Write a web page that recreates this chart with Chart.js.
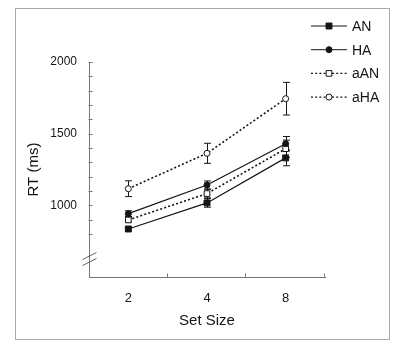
<!DOCTYPE html>
<html><head><meta charset="utf-8">
<script src="https://cdn.jsdelivr.net/npm/chart.js@4/dist/chart.umd.min.js"></script>
<style>html,body{margin:0;padding:0;background:#fff}#wrap{width:400px;height:353px;position:relative}</style>
</head><body><div id="wrap"><canvas id="c" width="400" height="353"></canvas></div>
<script>
const categories = ['2', '4', '8'];
const seriesNames = ['AN', 'HA', 'aAN', 'aHA'];
const AN = [835, 1017, 1331];
const HA = [942, 1142, 1430];
const aAN = [898, 1082, 1395];
const aHA = [1116, 1363, 1744];
const AN_err = [15, 30, 55];
const HA_err = [20, 28, 50];
const aAN_err = [15, 30, 60];
const aHA_err = [55, 70, 114];
const yLabels = [1000, 1500, 2000];
const yMin = 500, yMax = 2000, yStep = 100;

const FONT = "'Liberation Sans', Arial, sans-serif";
const INK = '#151515';
const AXIS = '#777';

function ds(label, data, err, style, filled, dashed, radius) {
  return {
    label, data, err,
    borderColor: INK, borderWidth: dashed ? 1.6 : 1.2,
    borderDash: dashed ? [2, 2.2] : [],
    pointStyle: style, pointRadius: radius, pointHoverRadius: radius,
    pointBackgroundColor: filled ? INK : '#fff', pointBorderColor: INK, pointBorderWidth: 1,
    tension: 0, fill: false
  };
}

const decor = {
  id: 'decor',
  beforeDraw(chart) {
    const ctx = chart.ctx;
    ctx.save();
    ctx.fillStyle = '#fff';
    ctx.fillRect(0, 0, chart.width, chart.height);
    ctx.strokeStyle = '#aaa';
    ctx.lineWidth = 1;
    ctx.strokeRect(15.5, 8.5, 374, 331);
    ctx.restore();
  },
  beforeDatasetsDraw(chart) {
    const ctx = chart.ctx, xs = chart.scales.x, ys = chart.scales.y;
    ctx.save();
    // inward tick marks on y axis
    ctx.strokeStyle = AXIS; ctx.lineWidth = 1;
    const ax = Math.round(ys.right) + 0.5;
    ys.ticks.forEach(t => {
      if (t.value < 800) return;
      const py = Math.round(ys.getPixelForValue(t.value)) + 0.5;
      ctx.beginPath(); ctx.moveTo(ax - 1, py); ctx.lineTo(ax + 3, py); ctx.stroke();
    });
    // inward tick marks on x axis at category boundaries
    const by = Math.round(xs.top) + 0.5;
    const n = categories.length;
    for (let i = 1; i <= n; i++) {
      const px = i < n ? (xs.getPixelForValue(i - 1) + xs.getPixelForValue(i)) / 2 : xs.right;
      const rx = Math.round(px) - 0.5;
      ctx.beginPath(); ctx.moveTo(rx, by); ctx.lineTo(rx, by - 4); ctx.stroke();
    }
    // axis break marks
    const bY = ys.getPixelForValue(650);
    ctx.strokeStyle = '#666'; ctx.lineWidth = 1;
    [0, 6].forEach(d => {
      ctx.beginPath(); ctx.moveTo(ax - 7, bY + d + 4); ctx.lineTo(ax + 7, bY + d - 3); ctx.stroke();
    });
    // error bars
    ctx.strokeStyle = INK; ctx.lineWidth = 1;
    chart.data.datasets.forEach((d) => {
      d.data.forEach((v, j) => {
        const px = Math.round(xs.getPixelForValue(j)) + 0.5;
        const yt = ys.getPixelForValue(v + d.err[j]);
        const yb = ys.getPixelForValue(v - d.err[j]);
        ctx.beginPath();
        ctx.moveTo(px, yt); ctx.lineTo(px, yb);
        ctx.moveTo(px - 3.5, yt); ctx.lineTo(px + 3.5, yt);
        ctx.moveTo(px - 3.5, yb); ctx.lineTo(px + 3.5, yb);
        ctx.stroke();
      });
    });
    ctx.restore();
  },
  afterDraw(chart) {
    const ctx = chart.ctx;
    ctx.save();
    chart.data.datasets.forEach((d, i) => {
      const y = 26 + i * 23.7;
      ctx.strokeStyle = d.borderColor;
      ctx.lineWidth = d.borderDash.length ? 1.4 : 1;
      ctx.setLineDash(d.borderDash);
      ctx.beginPath(); ctx.moveTo(311, y); ctx.lineTo(347, y); ctx.stroke();
      ctx.setLineDash([]);
      ctx.fillStyle = d.pointBackgroundColor; ctx.strokeStyle = d.pointBorderColor;
      ctx.lineWidth = 1;
      Chart.helpers.drawPoint(ctx, {pointStyle: d.pointStyle, radius: d.pointRadius, rotation: 0, borderWidth: 1}, 329, y);
      ctx.fillStyle = INK;
      ctx.font = '14px ' + FONT;
      ctx.textBaseline = 'middle'; ctx.textAlign = 'left';
      ctx.fillText(d.label, 352, y + 1);
    });
    ctx.restore();
  }
};

new Chart(document.getElementById('c'), {
  type: 'line',
  data: {
    labels: categories,
    datasets: [
      ds(seriesNames[0], AN, AN_err, 'rect', true, false, 4.2),
      ds(seriesNames[1], HA, HA_err, 'circle', true, false, 3),
      ds(seriesNames[2], aAN, aAN_err, 'rect', false, true, 4),
      ds(seriesNames[3], aHA, aHA_err, 'circle', false, true, 3)
    ]
  },
  options: {
    responsive: false, animation: false, devicePixelRatio: 1,
    layout: {padding: {left: 0, top: 62, right: 75, bottom: 0}},
    plugins: {legend: {display: false}, tooltip: {enabled: false}},
    scales: {
      x: {
        type: 'category', offset: true,
        ticks: {padding: 14, color: INK, font: {size: 13, family: FONT}},
        grid: {display: false, drawTicks: false, offset: true},
        border: {display: true, color: AXIS, width: 1},
        title: {display: true, text: 'Set Size', color: INK, font: {size: 15, family: FONT}, padding: {top: 0, bottom: 23}},
        afterFit(s) { s.height = 76; s.paddingLeft = 0; s.paddingRight = 0; }
      },
      y: {
        type: 'linear', min: yMin, max: yMax,
        ticks: {stepSize: yStep, autoSkip: false, padding: 12, color: INK, font: {size: 12, family: FONT},
          callback: v => yLabels.includes(v) ? String(v) : ''},
        grid: {display: false, drawTicks: false},
        border: {display: true, color: AXIS, width: 1},
        title: {display: true, text: 'RT (ms)', color: INK, font: {size: 15, family: FONT}, padding: {top: 25, bottom: 0}},
        afterFit(s) { s.width = 89; s.paddingTop = 0; s.paddingBottom = 0; }
      }
    }
  },
  plugins: [decor]
});
</script>
</body></html>
